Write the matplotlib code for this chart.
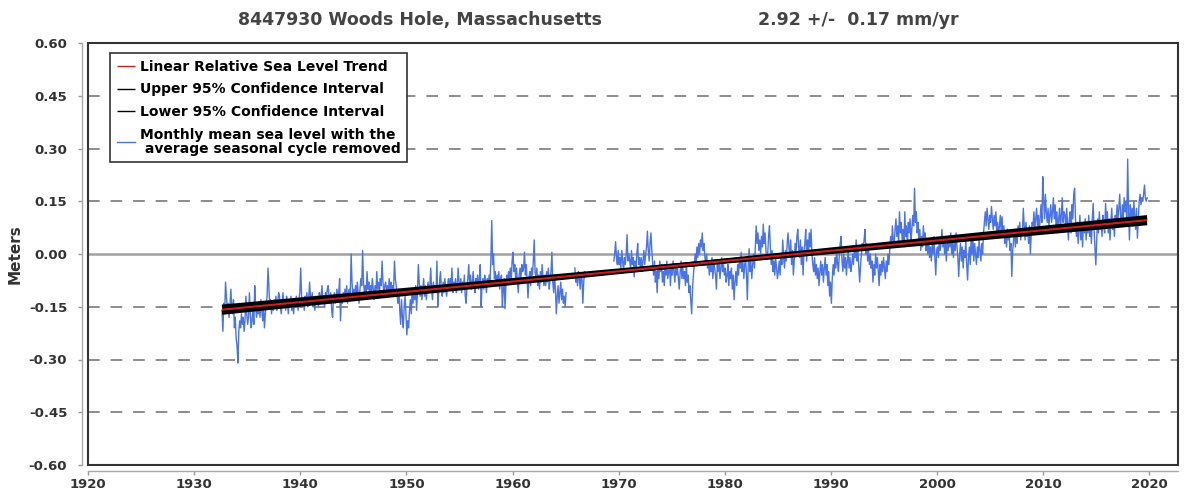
import numpy as np
import matplotlib
matplotlib.use("Agg")
import matplotlib.pyplot as plt
from matplotlib.patches import Rectangle

plt.rcParams["font.family"] = "DejaVu Sans"
plt.rcParams["font.weight"] = "bold"

nan = np.nan

# Monthly mean sea level, seasonal cycle removed (cm)
# first value is Aug 1932, then one value per month
sl_1930s = [
    -16, -22, -14, -17, -8,
    -12, -16, -14, -18, -15, -10, -15, -17, -13, -21, -18, -24,
    -26, -31, -22, -19, -21, -17, -20, -18, -22, -19, -12, -17,
    -20, -18, -11, -17, -21, -19, -16, -20, -9, -15, -18, -16,
    -17, -14, -18, -13, -16, -19, -15, -21, -17, -14, -12, -4,
    -9, -15, -13, -17, -14, -16, -13, -15, -12, -16, -14, -11,
    -12, -15, -17, -14, -11, -15, -13, -16, -12, -14, -17, -13,
    -15, -12, -16, -14, -17, -13, -15, -12, -14, -16, -13, -11,
]
sl_1940s = [
    -4, -12, -15, -13, -16, -12, -14, -11, -15, -13, -8, -12,
    -14, -11, -15, -13, -16, -12, -14, -12, -15, -11, -13, -12,
    -9, -13, -12, -15, -11, -13, -10, -9, -12, -14, -11, -16,
    -18, -13, -11, -14, -12, -10, -13, -11, -7, -19, -12, -14,
    -11, -13, -10, -12, -9, -14, -11, -10, -12, 0, -8, -12,
    -10, -13, -9, -12, -8, -11, -14, -10, -7, -9, 1, -8,
    -11, -9, -12, -5, -10, -8, -12, -9, -11, -7, -10, -13,
    -9, -12, -5, -10, -8, -11, -7, -9, -2, -8, -11, -9,
    -8, -11, -9, -12, -7, -10, -8, -12, -9, -10, -2, -7,
    -9, -12, -14, -10, -16, -20, -13, -18, -21, -15, -12, -17,
]
sl_1950s = [
    -23, -19, -21, -16, -13, -17, -11, -14, -10, -13, -9, -16,
    -11, -3, -8, -12, -9, -13, -10, -7, -12, -9, -13, -10,
    -8, -11, -9, -4, -10, -13, -8, -11, -9, -11, -2, -15,
    -11, -8, -5, -10, -12, -8, -11, -7, -10, -12, -9, -7,
    -10, -7, -9, -4, -11, -8, -10, -7, -11, -9, -4, -8,
    -10, -7, -11, -8, -10, -6, -12, -14, -9, -7, -3, -9,
    -6, -10, -8, -5, -9, -11, -7, -9, -6, -10, -7, -3,
    -15, -9, -7, -10, -6, -8, -11, -7, -9, -6, -8, -2,
    9.5, -3, 0, -7, -5, -9, -6, -8, -5, -10, -7, -6,
    -15, -10, -7, -15.5, -9, -6, -8, -5, -7, -4, -8, -2,
]
sl_1960s = [
    0.5, -5, -3, -7, -4, -8, -11, -6, -4, -7, -3, -5,
    -4, 0.5, -6, -3, -8, -12.5, -7, -5, -9, -4, -6, -2,
    4, -5, -7, -4, -9, -6, -10, -5, -8, -3, -7, -9,
    -6, -9, -5, -8, -4, -10, -7, -5, 0.5, -8, -11, -6,
    -10, -17, -12, -9, -14, -11, -8, -13, -10, -14, -12, -15,
    -11, nan, nan, nan, nan, nan, nan, nan, nan, nan, -4, -8,
    -6, -9, -5, -7, -10, -6, -7, -14, -8, -5, nan, nan,
    nan, nan, nan, nan, nan, nan, nan, nan, nan, nan, nan, nan,
    nan, nan, nan, nan, nan, nan, nan, nan, nan, nan, nan, nan,
    nan, nan, nan, nan, nan, nan, -2, 0, 3.5, -1, -3, 1,
]
sl_1970s = [
    -3, -1, -4, 1, -2, -5, -1, -3, 0, 5.5, -2, 0,
    -2, -4, 1, -3, -1, -6.5, -2, -4, 0, 3, -3, -1,
    -4, -1, -5, -2, 1, -3, 0, 2, 6.5, 1, -2, 3,
    6, 1, -3, -6, -2, -8, -5, -11, -4, -7, -2, -5,
    -3, -8, -5, -9, -4, -6, -2, -7, -5, -3, -9, -4,
    -6, -2, -5, -8, -3, -6, -4, -7, -10, -5, -2, -7,
    -4, -7, -5, -9, -3, -8, -6, -11, -9, -13, -17, -10,
    -6, -3, 0, -2, 2, -1, 3, 0, 4, 2, 6, 1,
    3, -1, -3, 0, -4, -2, -6, -3, -5, -1, -7, -3,
    -4, -6, -10, -3, -5, -2, -7, -4, -1, -5, -3, -6,
]
sl_1980s = [
    -4, -8, -6, -3, -9, -5, -7, -4, -10, -6, -13, -8,
    -5, -9, -3, -6, -1, -4, 0.5, -5, -2, -7, -3, -1,
    -6, -13, -3, 1.5, -5, -2, -7, -3, 0, -4, 2, 8,
    3, 6, 1, 4, 0, 5, 2, 8.5, 3, 6, 1, -1,
    0, 5, 8, 2, -3, 1, -5, -2, -6, -1, -4, -7,
    -5, -2, -6, 0, -3, 4, -1, -4, 1, -2, 3, 6,
    2, -1, 4, -3, 1, -6, -2, 3, 0, 5, 7, 2,
    -1, 4, -3, 2, -6, 1, 3, 7, -2, 4, 0, 6,
    2, 7, 0, -3, -5, -1, -6, -3, -7, -4, -9, -5,
    -2, -6, -3, -8, -4, -1, -6, -3, -9, -5, -12, -8,
]
sl_1990s = [
    -14, -7, -3, -6, -1, -4, 1, -3, -5, 0, 3, 5,
    -2, -5, 0, -4, -1, -6, -2, 1, -4, -1, -5, -3,
    0, -3, 2, -1, 4, -2, 1, -4, -8, -3, 0, 3,
    2, 4, 7, 0, 3, -2, 1, -3, 0, -4, -2, -8,
    -3, -6, 0, -4, -1, -5, -9, -3, -6, -2, -5, -1,
    -4, -7, -2, -5, 0, -3, 1, 5, 2, 8, 4, 3,
    7, 10, 5, 8, 3, 12, 6, 9, 4, 7, 2, 12,
    5, 8, 3, 9, 6, 10, 4, 7, 11, 8, 18.7, 9,
    12, 6, 9, 3, 7, 1, 5, 2, 8, 4, 6, 1,
    3, 0, 4, -1, 2, -2, 3, 0, 5, -1, -6, 1,
]
sl_2000s = [
    2, -1, 4, 1, 3, 7, 2, 5, 0, 3, -2, 4,
    1, 5, 2, 6, 0, 3, -1, 4, 1, 6, 2, -1,
    -6.4, 0, 3, -2, 2, -4, 1, -1, 4, -3, -7.4, -1,
    2, -3, 4, 0, 5, -2, 3, 0, -3, 2, -1, 4,
    1, -2, 3, 0, 6, 9, 12, 8, 13, 10, 7, 11,
    9, 13.5, 10, 7, 11, 8, 12, 6, 9, 5, 8, 11,
    6, 10.6, 5, 8, 3, 6, 2, 7, 4, 6, 1, 3,
    -6.4, 1, 4, 7, 2, 6, 3, 8, 5, 9, 4, 7,
    6, 13, 8, 4, 9, 5, 7, 3, 8, 0, 6, 9,
    8, 12, 7, 10, 13, 8, 11, 6, 10, 14, 9, 22,
]
sl_2010s = [
    15, 10, 17, 12, 9, 13, 8, 11, 14, 9, 12, 16,
    10, 14, 8, 12, 6, 10, 13, 7, 11, 16, 9, 12,
    11, 7, 13, 9, 4, 10, 12, 6, 14, 10, 17, 18.7,
    10, 5, 9, 3, 7, 11, 4, 8, 2, 9, 6, 10,
    4, 9, 6, 11, 5, 8, 3, 10, 14.4, 7, 2, -3.1,
    4, 10, 6, 12, 7, 9, 5, 11, 8, 6, 14.4, 9,
    12, 6, 10, 4, 9, 13, 7, 10, 5, 11, 8, 14,
    10, 13, 17, 11, 8, 14, 10, 16, 12, 15, 9, 27,
    12, 4, 14, 9, 13, 8, 15, 11, 7, 13, 4.5, 10,
    15, 17, 14, 16, 15, 17, 19.6, 16, 15, 16,
]

start_year, start_month = 1932, 8
trend_mm_yr = 2.92
ci_mm_yr = 0.17

y_ticks = [0.60, 0.45, 0.30, 0.15, 0.00, -0.15, -0.30, -0.45, -0.60]
x_ticks = [1920, 1930, 1940, 1950, 1960, 1970, 1980, 1990, 2000, 2010, 2020]

station = "8447930 Woods Hole, Massachusetts"
rate_text = "2.92 +/-  0.17 mm/yr"

# build monthly series
msl = np.array(sl_1930s + sl_1940s + sl_1950s + sl_1960s + sl_1970s
               + sl_1980s + sl_1990s + sl_2000s + sl_2010s, dtype=float) / 100.0
t = start_year + (start_month - 1 + np.arange(len(msl)) + 0.5) / 12.0

ok = ~np.isnan(msl)
t_mid = t[ok].mean()
v_mid = msl[ok].mean()
tt = np.array([t[ok][0], t[ok][-1]])
trend = v_mid + trend_mm_yr / 1000 * (tt - t_mid)
upper = v_mid + (trend_mm_yr + ci_mm_yr) / 1000 * (tt - t_mid)
lower = v_mid + (trend_mm_yr - ci_mm_yr) / 1000 * (tt - t_mid)

fig = plt.figure(figsize=(11.96, 4.92), dpi=100)
ax = fig.add_axes([88 / 1196, 27 / 492, 1090 / 1196, 422 / 492])

# grid
for y in y_ticks:
    if y == 0:
        ax.axhline(y, color="#a0a0a0", lw=1.8, zorder=1)
    elif abs(y) < 0.6:
        ax.axhline(y, color="#8c8c8c", lw=1.4, ls=(0, (6.0, 5.6)), zorder=1)

ax.plot(t, msl, color="#4a74e6", lw=1.0, zorder=2,
        label="Monthly mean sea level with the\n average seasonal cycle removed")
ax.plot(tt, upper, color="black", lw=3.6, zorder=3, solid_capstyle="butt",
        label="Upper 95% Confidence Interval")
ax.plot(tt, lower, color="black", lw=3.6, zorder=3, solid_capstyle="butt",
        label="Lower 95% Confidence Interval")
ax.plot(tt, trend, color="#c8201e", lw=1.5, zorder=4, solid_capstyle="butt",
        label="Linear Relative Sea Level Trend")

ax.set_xlim(1920, 2022.7)
ax.set_ylim(-0.6, 0.6)
ax.set_xticks(x_ticks)
ax.set_xticklabels([str(x) for x in x_ticks])
ax.set_yticks(y_ticks)
ax.set_yticklabels(["%.2f" % y for y in y_ticks])
ax.tick_params(axis="both", direction="out", length=3, width=1, color="#999999",
               labelsize=9.5, labelcolor="#333333")
ax.tick_params(axis="y", pad=8)
ax.tick_params(axis="x", pad=2)

for s in ["top", "right"]:
    ax.spines[s].set_visible(False)
for s in ["left", "bottom"]:
    ax.spines[s].set_position(("outward", 4))
    ax.spines[s].set_color("#aaaaaa")
    ax.spines[s].set_linewidth(1.0)
ax.add_patch(Rectangle((0, 0), 1, 1, transform=ax.transAxes, fill=False,
                       ec="#333333", lw=1.5, clip_on=False, zorder=6))

h, l = ax.get_legend_handles_labels()
order = [3, 1, 2, 0]
leg = ax.legend([h[i] for i in order], [l[i] for i in order], loc="upper left",
                bbox_to_anchor=(0.0202, 0.976), borderaxespad=0, fancybox=False,
                framealpha=1, edgecolor="#333333", handlelength=1.3,
                handletextpad=0.35, labelspacing=0.62, borderpad=0.48,
                prop={"weight": "bold", "size": 10.0})
leg.get_frame().set_linewidth(1.2)
for line in leg.get_lines():
    line.set_linewidth(1.0)
for txt in leg.get_texts():
    txt.set_linespacing(1.0)

fig.text(420 / 1196, 1 - 20 / 492, station, ha="center", va="center",
         fontsize=12.5, color="#444444", fontweight="bold")
fig.text(858 / 1196, 1 - 20 / 492, rate_text, ha="center", va="center",
         fontsize=12.5, color="#444444", fontweight="bold")
fig.text(15 / 1196, 1 - 254 / 492, "Meters", rotation=90, ha="center", va="center",
         fontsize=11, color="#333333", fontweight="bold")

fig.savefig("out.png", dpi=100)
